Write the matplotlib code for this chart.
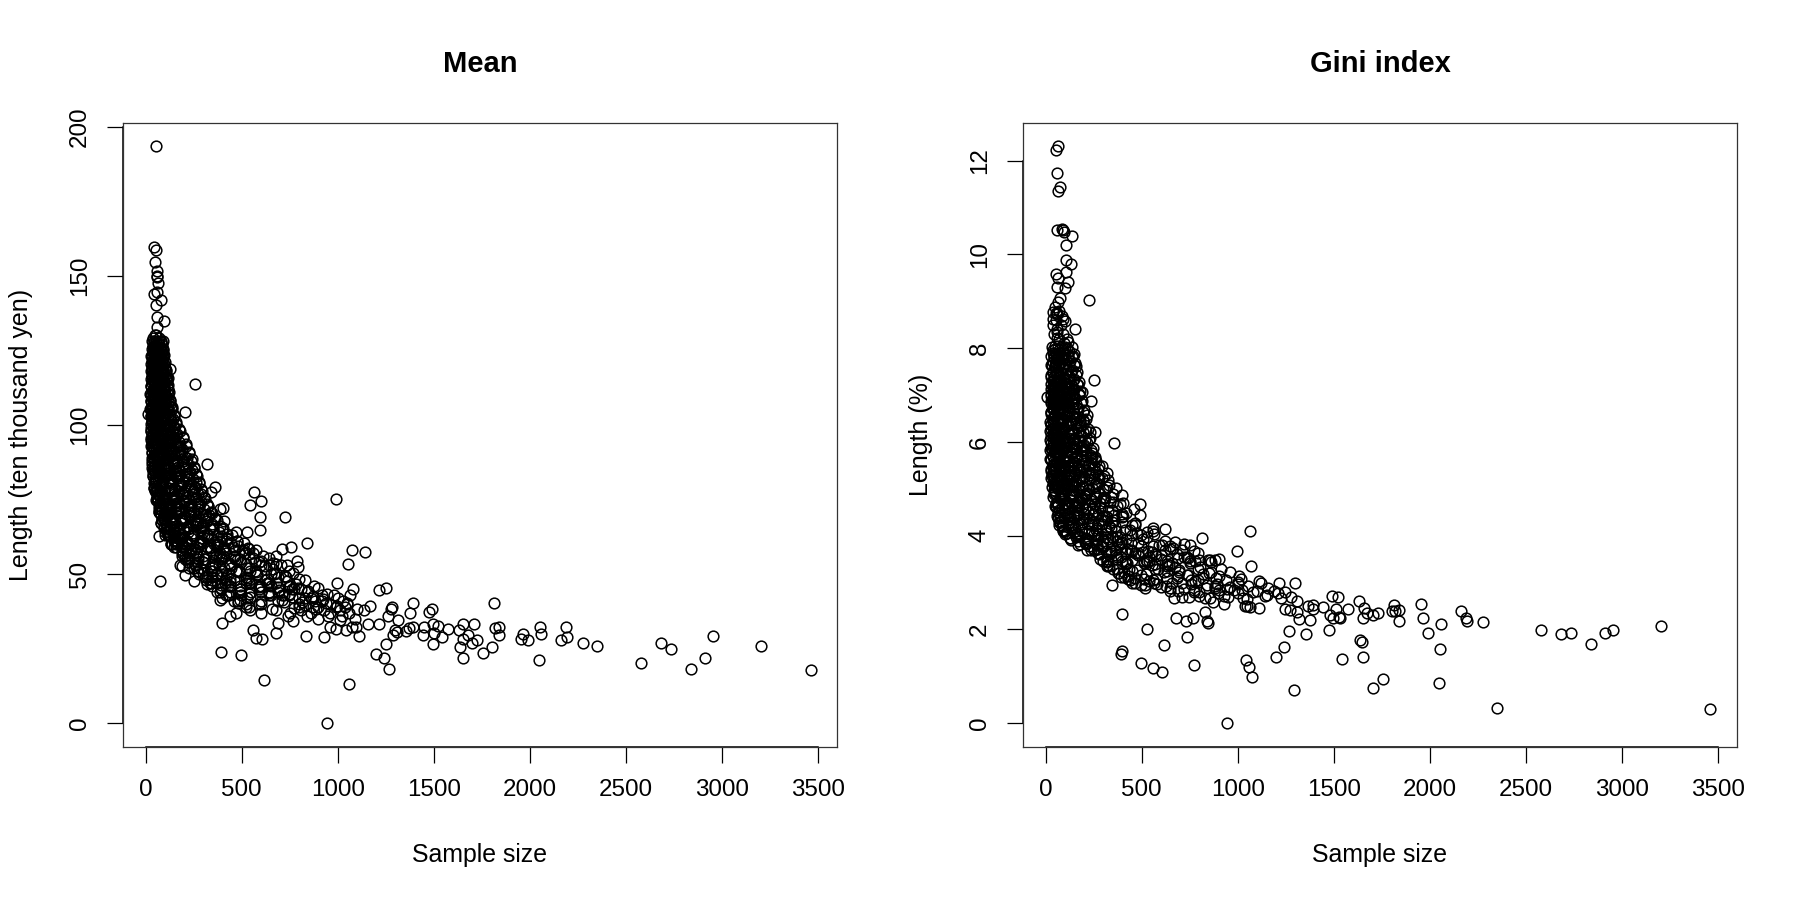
import matplotlib
matplotlib.use("Agg")
import matplotlib.pyplot as plt

plt.rcParams['font.family'] = ['Liberation Sans', 'DejaVu Sans']

x_ticks = [0, 500, 1000, 1500, 2000, 2500, 3000, 3500]
mean_ticks = [0, 50, 100, 150, 200]
gini_ticks = [0, 2, 4, 6, 8, 10, 12]

# isolated points of the mean panel
mean_sparse_x = [
    54, 42, 54, 49, 59, 59, 59, 62, 57, 45, 82, 54, 97, 61, 59, 127, 118, 259, 205, 10,
    321, 361, 340, 564, 602, 545, 594, 724, 990, 401, 387, 408, 528, 594, 469, 842, 755, 708, 531, 1076,
    1144, 1055, 738, 786, 795, 680, 665, 75, 71, 109, 205, 250, 187, 321, 387, 399, 394, 496, 559, 573,
    608, 616, 680, 691, 767, 752, 837, 929, 946, 1061, 1200, 1243, 1269, 1252, 1113, 996, 1078, 1062, 1213, 1250,
    1170, 1139, 1392, 1281, 1276, 1377, 1489, 1477, 1262, 1312, 1215, 1160, 1394, 1373, 1446, 1451, 1498, 1524, 1575, 1503,
    1495, 1298, 1290, 1356, 1307, 1094, 1043, 991, 960, 1073, 1012, 1542, 1634, 1653, 1708, 1680, 1651, 1727,
    1700, 1637, 1654, 1758, 1802, 1814, 1819, 1842, 1842, 1967, 1955, 1989, 2047, 2056, 2059, 2165, 2189, 2196, 2276, 2349,
    2581, 2682, 2738, 2842, 2915, 2953, 3205, 3463,
]
mean_sparse_y = [
    193.4, 159.7, 158.7, 154.7, 151.6, 150, 149.7, 147.5, 144.5, 143.9, 141.8, 140.3, 134.9, 136.1, 132.7, 118.9, 115.6, 113.6, 104.4, 103.7,
    86.9, 79.3, 77.4, 77.7, 74.7, 73.3, 69.3, 69.3, 75.1, 72.3, 71.8, 67.9, 64, 64.7, 64, 60.5, 59, 58.6, 58.8, 58.2,
    57.5, 53.5, 53, 54.5, 52.5, 56, 53.8, 47.8, 62.7, 64, 49.7, 47.8, 52.7, 46.6, 41.2, 33.8, 24.1, 22.8, 31.3, 28.5,
    28.3, 14.7, 30.2, 33.8, 34.2, 36.9, 29.2, 28.8, 0, 13.1, 23.3, 21.8, 18.4, 26.7, 29.4, 47.1, 44.9, 43, 44.8, 45.5,
    39.4, 38, 40.5, 39.1, 38.5, 36.9, 38.5, 37.2, 36, 34.6, 33.2, 33.3, 32.4, 32.1, 29.5, 32.4, 33.3, 32.6, 31.5, 30.2,
    26.7, 31.3, 29.6, 31.1, 30.7, 32.4, 31.3, 31.5, 32.4, 32.4, 34.6, 28.8, 31.3, 33.2, 33.2, 29.6, 28.4, 27.9,
    27, 25.7, 21.8, 23.5, 25.7, 40.2, 32.1, 32.4, 29.7, 29.8, 28.4, 28.1, 21.4, 32.4, 29.8, 28.1, 32.4, 29, 26.8, 25.8,
    20.4, 27.1, 25.1, 18.4, 22, 29.4, 26, 17.8,
]

# crowded part of the mean panel, written top to bottom along the curve
mean_cluster_x = [
    36, 44, 52, 60, 68, 75, 82, 90, 48, 64,
    34, 42, 50, 58, 66, 74, 82, 92, 100, 46,
    32, 40, 48, 56, 64, 72, 80, 88, 96, 106,
    30, 38, 46, 54, 62, 70, 78, 90, 102, 118,
    28, 36, 44, 52, 60, 68, 80, 95, 110, 125,
    26, 34, 42, 50, 60, 72, 85, 100, 120, 140,
    28, 38, 48, 58, 70, 85, 100, 120, 140, 165,
    30, 40, 50, 62, 76, 92, 110, 130, 155, 180,
    32, 44, 56, 70, 86, 104, 125, 150, 180, 215,
    34, 46, 60, 76, 94, 115, 140, 170, 205, 240,
    38, 50, 66, 84, 104, 128, 155, 185, 220, 262,
    46, 58, 76, 96, 120, 145, 175, 210, 250, 290,
    60, 75, 92, 112, 135, 165, 195, 235, 280, 325,
    70, 88, 108, 130, 155, 185, 220, 265, 310, 360,
    82, 104, 128, 155, 185, 220, 260, 300, 345, 400,
    115, 145, 175, 210, 245, 285, 325, 375, 425, 475,
    160, 195, 235, 275, 320, 365, 410, 460, 510, 560,
    215, 255, 300, 345, 390, 440, 490, 540, 590, 640,
    270, 320, 370, 420, 470, 520, 570, 620, 670, 730,
    340, 390, 440, 490, 540, 590, 640, 690, 750, 810,
    420, 480, 530, 590, 640, 690, 745, 800, 860, 920,
    520, 600, 680, 740, 800, 860, 900, 950, 1010, 1060,
    40, 47, 55, 63, 71, 79, 86, 38, 58, 74,
    33, 41, 49, 57, 65, 75, 85, 95, 109, 52,
    29, 37, 45, 53, 63, 73, 85, 99, 114, 130,
    27, 35, 43, 53, 63, 75, 90, 106, 126, 148,
    29, 39, 49, 60, 73, 88, 105, 126, 148, 172,
    31, 42, 54, 67, 82, 98, 118, 140, 166, 196,
    33, 46, 60, 75, 92, 112, 135, 160, 192, 228,
    38, 52, 68, 86, 106, 130, 158, 190, 226, 256,
    44, 58, 76, 96, 118, 145, 175, 208, 245, 275,
    56, 72, 90, 112, 138, 168, 200, 238, 280, 315,
    68, 85, 106, 130, 158, 190, 228, 270, 312, 350,
    78, 100, 125, 152, 185, 222, 262, 305, 350, 395,
    100, 130, 165, 200, 240, 282, 325, 370, 420, 465,
    150, 190, 230, 275, 320, 365, 415, 465, 515, 570,
    205, 250, 300, 345, 395, 445, 495, 545, 600, 655,
    265, 315, 365, 415, 470, 525, 580, 630, 690, 745,
    335, 385, 440, 495, 550, 600, 655, 710, 770, 830,
    36, 44, 52, 60, 70, 82, 42, 56, 68, 88,
    32, 40, 50, 62, 76, 92, 110, 48, 66, 84,
    34, 44, 56, 70, 86, 104, 126, 150, 60, 96,
    38, 50, 64, 80, 100, 122, 148, 178, 210, 72,
    50, 66, 84, 106, 130, 158, 188, 222, 260, 96,
    74, 94, 116, 142, 172, 206, 244, 285, 330, 126,
    110, 140, 172, 208, 248, 290, 335, 385, 160, 235,
    190, 225, 265, 310, 355, 405, 455, 285, 380, 430,
    80, 95, 120, 130, 150, 165, 190, 180, 205, 225,
    345, 370, 400, 430, 460, 490, 520, 545, 470, 440,
    810, 840, 870, 900, 930, 960, 990, 1020, 1050, 1090,
]
mean_cluster_y = [
    129, 128, 130, 127, 129, 126, 128, 125, 126, 124,
    123, 124, 122, 125, 121, 123, 120, 122, 119, 120,
    118, 116, 119, 117, 115, 119, 116, 118, 115, 117,
    113, 111, 114, 112, 110, 114, 111, 113, 110, 112,
    108, 106, 109, 107, 105, 109, 106, 108, 105, 107,
    103, 101, 104, 102, 100, 104, 101, 103, 100, 102,
    99, 97, 98, 96, 99, 97, 99, 96, 98, 97,
    95, 93, 94, 92, 95, 93, 95, 92, 94, 93,
    91, 89, 90, 88, 91, 89, 91, 88, 90, 89,
    87, 85, 86, 84, 87, 85, 87, 84, 86, 85,
    83, 81, 82, 80, 83, 81, 83, 80, 82, 81,
    79, 77, 78, 76, 79, 77, 79, 76, 78, 77,
    75, 73, 74, 72, 75, 73, 75, 72, 74, 73,
    71, 69, 70, 68, 71, 69, 71, 68, 70, 69,
    67, 65, 66, 64, 67, 65, 67, 64, 66, 65,
    63, 61, 62, 60, 63, 61, 63, 60, 62, 61,
    59, 57, 58, 56, 59, 57, 59, 56, 58, 57,
    55, 53, 54, 52, 55, 53, 55, 52, 54, 53,
    51, 49, 50, 48, 51, 49, 51, 48, 50, 49,
    47, 45, 46, 44, 47, 45, 47, 44, 46, 45,
    43, 41, 42, 40, 43, 41, 43, 40, 42, 41,
    39, 37, 38, 36, 39, 37, 39, 36, 38, 37,
    126, 130, 124, 128, 122, 125, 121, 120, 119, 118,
    116, 114, 117, 113, 116, 112, 117, 113, 115, 111,
    110, 108, 111, 107, 110, 108, 111, 107, 109, 106,
    105, 102, 104, 100, 105, 102, 104, 100, 103, 99,
    98, 95, 97, 94, 98, 95, 97, 94, 96, 93,
    93, 90, 92, 89, 93, 90, 92, 89, 91, 88,
    89, 86, 88, 85, 89, 86, 88, 85, 87, 84,
    84, 81, 83, 80, 84, 81, 83, 80, 82, 79,
    79, 76, 78, 75, 79, 76, 78, 75, 77, 74,
    75, 72, 74, 71, 75, 72, 74, 71, 73, 70,
    71, 68, 70, 67, 71, 68, 70, 67, 69, 66,
    67, 64, 66, 63, 67, 64, 66, 63, 65, 62,
    63, 60, 62, 59, 63, 60, 62, 59, 61, 58,
    59, 56, 58, 55, 59, 56, 58, 55, 57, 54,
    55, 52, 54, 51, 55, 52, 54, 51, 53, 50,
    51, 48, 50, 47, 51, 48, 50, 47, 49, 46,
    47, 44, 46, 43, 47, 44, 46, 43, 45, 42,
    121, 118, 120, 117, 115, 119, 112, 110, 113, 108,
    106, 103, 105, 101, 106, 102, 104, 99, 98, 97,
    96, 92, 94, 90, 95, 91, 94, 90, 87, 86,
    85, 82, 84, 80, 85, 81, 84, 80, 83, 77,
    78, 75, 77, 73, 78, 74, 77, 73, 76, 70,
    72, 69, 71, 67, 72, 68, 71, 67, 70, 65,
    66, 63, 65, 61, 66, 62, 65, 61, 60, 58,
    60, 57, 59, 55, 60, 56, 59, 52, 53, 50,
    70, 66, 63, 60, 64, 61, 57, 53, 56, 52,
    46, 44, 42, 43, 41, 44, 40, 38, 37, 36,
    38, 36, 39, 35, 38, 37, 39, 36, 40, 35,
]

# second pass over the same curve, where the rings merge into black
mean_core_x = [
    32, 38, 44, 50, 56, 62, 68, 74, 80, 86, 92, 46,
    31, 37, 43, 49, 55, 61, 67, 73, 79, 85, 91, 97,
    29, 35, 41, 47, 53, 59, 65, 71, 77, 83, 90, 99,
    28, 34, 40, 47, 54, 61, 68, 75, 82, 89, 97, 108,
    26, 33, 40, 47, 54, 61, 68, 76, 84, 92, 104, 112,
    27, 34, 41, 48, 55, 62, 70, 78, 86, 96, 106, 116,
    26, 33, 41, 49, 57, 65, 73, 82, 91, 101, 111, 122,
    25, 33, 41, 49, 58, 67, 76, 86, 96, 107, 118, 128,
    26, 34, 43, 52, 61, 71, 81, 92, 103, 115, 127, 136,
    25, 34, 43, 53, 63, 74, 85, 97, 110, 123, 136, 148,
    26, 35, 45, 55, 66, 78, 91, 104, 118, 133, 148, 160,
    26, 36, 46, 58, 70, 83, 97, 112, 128, 145, 160, 172,
    27, 38, 50, 62, 76, 91, 107, 124, 142, 160, 178, 195,
    28, 40, 52, 66, 81, 97, 115, 134, 154, 175, 195, 210,
    30, 42, 56, 71, 87, 105, 124, 145, 167, 190, 210, 225,
    31, 44, 59, 75, 93, 112, 133, 156, 180, 205, 225, 240,
    33, 47, 63, 80, 99, 120, 143, 168, 194, 220, 238, 250,
    35, 50, 67, 86, 107, 130, 155, 181, 208, 232, 250, 262,
    40, 54, 72, 92, 114, 138, 165, 192, 220, 245, 265, 278,
    45, 60, 79, 100, 123, 148, 176, 205, 235, 258, 278, 290,
    52, 68, 87, 108, 132, 160, 188, 218, 248, 272, 292, 305,
    60, 76, 96, 118, 143, 172, 202, 234, 262, 288, 308, 322,
    68, 86, 106, 130, 156, 186, 218, 250, 280, 305, 325, 340,
    76, 96, 118, 143, 172, 204, 236, 268, 298, 325, 345, 360,
    84, 106, 130, 158, 190, 222, 256, 290, 320, 348, 370, 388,
    98, 122, 150, 180, 214, 248, 284, 318, 350, 380, 405, 425,
    125, 152, 184, 216, 250, 286, 322, 358, 392, 425, 450, 475,
    160, 190, 224, 258, 296, 334, 372, 410, 445, 480, 510, 540,
    190, 225, 262, 300, 340, 380, 420, 460, 500, 540, 575, 610,
    225, 265, 305, 348, 390, 432, 476, 520, 560, 600, 640, 680,
    260, 305, 350, 395, 440, 485, 530, 575, 620, 665, 705, 745,
    300, 345, 392, 440, 488, 535, 582, 630, 678, 725, 765, 800,
    345, 392, 440, 490, 538, 588, 638, 688, 738, 785, 830, 875,
    390, 440, 490, 540, 592, 642, 695, 745, 795, 845, 895, 945,
    435, 490, 545, 600, 655, 708, 762, 815, 870, 925, 980, 1030,
    480, 540, 600, 660, 720, 775, 830, 885, 940, 995, 1050, 1100,
    40, 65, 90, 115, 140, 165, 190, 50, 80, 110, 145, 175,
    45, 70, 95, 120, 145, 170, 195, 220, 60, 90, 125, 160,
    75, 100, 125, 150, 175, 200, 225, 250, 275, 300, 115, 190,
    135, 160, 185, 210, 235, 260, 285, 310, 335, 360, 385, 410,
    220, 250, 280, 310, 340, 370, 400, 430, 460, 490, 520, 550,
    600, 640, 680, 720, 760, 800, 840, 880, 920, 960, 1000, 1040,
]
mean_core_y = [
    128, 126.5, 127.5, 126, 128.2, 126.2, 127.2, 125.8, 127.8, 126.8, 128, 126,
    125.5, 124, 125, 123.5, 125.7, 123.7, 124.7, 123.3, 125.3, 124.3, 125.5, 123.5,
    123, 121.5, 122.5, 121, 123.2, 121.2, 122.2, 120.8, 122.8, 121.8, 123, 121,
    120.5, 119, 120, 118.5, 120.7, 118.7, 119.7, 118.3, 120.3, 119.3, 120.5, 118.5,
    118, 116.5, 117.5, 116, 118.2, 116.2, 117.2, 115.8, 117.8, 116.8, 118, 116,
    115.5, 114, 115, 113.5, 115.7, 113.7, 114.7, 113.3, 115.3, 114.3, 115.5, 113.5,
    113, 111.5, 112.5, 111, 113.2, 111.2, 112.2, 110.8, 112.8, 111.8, 113, 111,
    110.5, 109, 110, 108.5, 110.7, 108.7, 109.7, 108.3, 110.3, 109.3, 110.5, 108.5,
    108, 106.5, 107.5, 106, 108.2, 106.2, 107.2, 105.8, 107.8, 106.8, 108, 106,
    105.5, 104, 105, 103.5, 105.7, 103.7, 104.7, 103.3, 105.3, 104.3, 105.5, 103.5,
    103, 101.5, 102.5, 101, 103.2, 101.2, 102.2, 100.8, 102.8, 101.8, 103, 101,
    100.5, 99, 100, 98.5, 100.7, 98.7, 99.7, 98.3, 100.3, 99.3, 100.5, 98.5,
    98, 96.5, 97.5, 96, 98.2, 96.2, 97.2, 95.8, 97.8, 96.8, 98, 96,
    95.5, 94, 95, 93.5, 95.7, 93.7, 94.7, 93.3, 95.3, 94.3, 95.5, 93.5,
    93, 91.5, 92.5, 91, 93.2, 91.2, 92.2, 90.8, 92.8, 91.8, 93, 91,
    90.5, 89, 90, 88.5, 90.7, 88.7, 89.7, 88.3, 90.3, 89.3, 90.5, 88.5,
    88, 86.5, 87.5, 86, 88.2, 86.2, 87.2, 85.8, 87.8, 86.8, 88, 86,
    85.5, 84, 85, 83.5, 85.7, 83.7, 84.7, 83.3, 85.3, 84.3, 85.5, 83.5,
    83, 81.5, 82.5, 81, 83.2, 81.2, 82.2, 80.8, 82.8, 81.8, 83, 81,
    80.5, 79, 80, 78.5, 80.7, 78.7, 79.7, 78.3, 80.3, 79.3, 80.5, 78.5,
    78, 76.5, 77.5, 76, 78.2, 76.2, 77.2, 75.8, 77.8, 76.8, 78, 76,
    75.5, 74, 75, 73.5, 75.7, 73.7, 74.7, 73.3, 75.3, 74.3, 75.5, 73.5,
    73, 71.5, 72.5, 71, 73.2, 71.2, 72.2, 70.8, 72.8, 71.8, 73, 71,
    70.5, 69, 70, 68.5, 70.7, 68.7, 69.7, 68.3, 70.3, 69.3, 70.5, 68.5,
    68, 66.5, 67.5, 66, 68.2, 66.2, 67.2, 65.8, 67.8, 66.8, 68, 66,
    65.5, 64, 65, 63.5, 65.7, 63.7, 64.7, 63.3, 65.3, 64.3, 65.5, 63.5,
    63, 61.5, 62.5, 61, 63.2, 61.2, 62.2, 60.8, 62.8, 61.8, 63, 61,
    60.5, 59, 60, 58.5, 60.7, 58.7, 59.7, 58.3, 60.3, 59.3, 60.5, 58.5,
    58, 56.5, 57.5, 56, 58.2, 56.2, 57.2, 55.8, 57.8, 56.8, 58, 56,
    55.5, 54, 55, 53.5, 55.7, 53.7, 54.7, 53.3, 55.3, 54.3, 55.5, 53.5,
    53, 51.5, 52.5, 51, 53.2, 51.2, 52.2, 50.8, 52.8, 51.8, 53, 51,
    50.5, 49, 50, 48.5, 50.7, 48.7, 49.7, 48.3, 50.3, 49.3, 50.5, 48.5,
    48, 46.5, 47.5, 46, 48.2, 46.2, 47.2, 45.8, 47.8, 46.8, 48, 46,
    45.5, 44, 45, 43.5, 45.7, 43.7, 44.7, 43.3, 45.3, 44.3, 45.5, 43.5,
    43, 41.5, 42.5, 41, 43.2, 41.2, 42.2, 40.8, 42.8, 41.8, 43, 41,
    40.5, 39, 40, 38.5, 40.7, 38.7, 39.7, 38.3, 40.3, 39.3, 40.5, 38.5,
    104, 101, 99, 97, 95, 93, 91, 95, 92, 89, 87, 85,
    88, 85, 83, 81, 79, 83, 77, 80, 78, 75, 73, 71,
    74, 71, 69, 67, 72, 65, 70, 68, 72, 66, 63, 62,
    60, 61, 63, 58, 62, 57, 60, 55, 59, 53, 57, 52,
    54, 52, 50, 49, 51, 47, 49, 46, 48, 45, 47, 44,
    46, 44, 47, 43, 45, 42, 44, 41, 43, 40, 42, 39,
]

# isolated points of the Gini panel
gini_sparse_x = [
    62, 52, 59, 75, 62, 61, 83, 92, 97, 135, 104, 104, 130, 106, 54, 118, 61, 101, 66, 224,
    75, 49, 66, 40, 61, 101, 153, 57, 57, 118, 101, 135, 158, 49, 252, 45, 148, 170, 187, 172,
    9, 234, 167, 213, 196, 257, 231, 243, 295, 318, 326, 365, 396, 404, 358, 493, 462, 493, 557, 623,
    557, 812, 1066, 996, 1068, 752, 672, 648, 708, 734, 856, 882, 904, 797, 344, 431, 465, 517, 564, 668,
    797, 873, 929, 1009, 1120, 1213, 1297, 1246, 1210, 1278, 1307, 1038, 1064, 1113, 1050, 1246, 1272, 1311, 1318, 1377,
    1368, 1394, 1390, 1446, 1493, 1524, 1510, 1481, 1498, 1529, 1573, 1476, 1354, 1267, 1243, 1200, 1042,
    1059, 1076, 1293, 946, 399, 526, 399, 394, 496, 559, 608, 616, 679, 731, 767, 738,
    773, 828, 839, 844, 1533, 1632, 1658, 1675, 1703, 1729, 1653, 1637, 1648, 1542, 1653, 1758, 1707, 1814, 1802, 1819,
    1842, 1842, 1955, 1967, 1989, 2059, 2056, 2047, 2165, 2189, 2196, 2276, 2349, 2581, 2682, 2738, 2842, 2915, 2953, 3205,
    3461,
]
gini_sparse_y = [
    12.31, 12.22, 11.74, 11.43, 11.36, 10.52, 10.55, 10.52, 10.47, 10.38, 10.2, 9.88, 9.79, 9.63, 9.58, 9.4, 9.31, 9.28, 9.49, 9.03,
    9.06, 8.88, 8.99, 8.63, 8.74, 8.58, 8.41, 8.35, 8.21, 8.14, 8.03, 7.82, 7.62, 7.65, 7.31, 7.39, 7.35, 7.21, 7.07, 7.0,
    6.95, 6.88, 6.72, 6.58, 6.47, 6.22, 6.22, 5.76, 5.49, 5.34, 5.19, 5.01, 4.87, 4.69, 5.97, 4.68, 4.57, 4.45, 4.17, 4.14,
    4.09, 3.94, 4.09, 3.68, 3.35, 3.8, 3.87, 3.79, 3.7, 3.55, 3.48, 3.48, 3.5, 3.48, 2.94, 3.08, 3.0, 2.95, 2.99, 2.67,
    2.71, 2.59, 2.54, 3.14, 2.99, 3.0, 2.99, 2.79, 2.77, 2.7, 2.61, 2.49, 2.47, 2.45, 2.5, 2.43, 2.42, 2.38, 2.22, 2.2,
    2.51, 2.52, 2.44, 2.47, 2.72, 2.7, 2.44, 2.31, 2.24, 2.26, 2.43, 1.98, 1.9, 1.96, 1.62, 1.41, 1.35,
    1.21, 0.98, 0.7, 0, 2.33, 2.0, 1.54, 1.47, 1.28, 1.17, 1.1, 1.66, 2.25, 2.17, 2.25, 1.83,
    1.25, 2.37, 2.17, 2.13, 2.25, 2.6, 2.45, 2.35, 2.3, 2.36, 2.24, 1.77, 1.73, 1.36, 1.41, 0.95, 0.76, 2.52, 2.39, 2.4,
    2.41, 2.17, 2.54, 2.24, 1.92, 2.11, 1.58, 0.85, 2.4, 2.25, 2.19, 2.15, 0.33, 1.98, 1.9, 1.93, 1.68, 1.93, 1.98, 2.07,
    0.31,
]

# crowded part of the Gini panel
gini_cluster_x = [
    38, 44, 52, 60, 68, 78, 88, 96, 110, 48,
    36, 44, 52, 60, 70, 80, 92, 104, 118, 56,
    32, 40, 48, 56, 66, 76, 88, 100, 114, 130,
    30, 38, 46, 56, 66, 78, 90, 104, 120, 138,
    28, 36, 46, 56, 68, 80, 94, 110, 128, 150,
    28, 36, 46, 58, 70, 84, 100, 118, 140, 165,
    26, 36, 46, 58, 72, 88, 106, 126, 150, 180,
    26, 36, 48, 60, 76, 92, 112, 135, 162, 195,
    26, 38, 50, 64, 80, 98, 120, 145, 175, 215,
    26, 38, 52, 68, 85, 105, 130, 158, 190, 230,
    28, 40, 54, 72, 92, 115, 142, 172, 205, 250,
    30, 44, 60, 78, 100, 125, 155, 190, 230, 280,
    36, 50, 68, 88, 112, 140, 175, 215, 260, 310,
    44, 60, 80, 104, 130, 165, 205, 250, 300, 350,
    56, 75, 98, 125, 160, 200, 245, 295, 345, 395,
    66, 90, 120, 155, 195, 240, 290, 340, 395, 450,
    90, 125, 165, 210, 260, 310, 365, 420, 475, 530,
    170, 215, 265, 315, 370, 425, 480, 535, 590, 650,
    270, 320, 370, 425, 480, 540, 600, 660, 720, 780,
    320, 375, 435, 495, 555, 615, 675, 735, 795, 860,
    430, 495, 560, 625, 690, 755, 820, 880, 940, 1000,
    650, 710, 770, 830, 880, 930, 980, 1030, 1080, 1140,
    40, 48, 56, 64, 74, 84, 94, 108, 124, 140,
    30, 38, 48, 60, 72, 86, 102, 120, 142, 160,
    28, 38, 50, 62, 76, 92, 110, 130, 156, 185,
    28, 40, 52, 66, 82, 100, 122, 148, 178, 205,
    28, 42, 56, 72, 90, 112, 138, 165, 200, 240,
    30, 44, 60, 78, 100, 124, 152, 185, 220, 262,
    34, 50, 68, 90, 114, 144, 178, 220, 262, 300,
    42, 60, 82, 106, 136, 172, 212, 256, 305, 335,
    56, 76, 100, 130, 165, 208, 255, 305, 355, 400,
    75, 105, 140, 180, 225, 275, 330, 385, 440, 495,
    125, 170, 220, 270, 325, 385, 445, 505, 560, 620,
    235, 285, 340, 395, 450, 510, 570, 630, 690, 750,
    330, 390, 450, 510, 570, 630, 695, 755, 820, 885,
    450, 515, 580, 645, 710, 775, 840, 900, 960, 1020,
    36, 44, 54, 66, 80, 96, 114, 136, 160, 60,
    30, 42, 56, 72, 90, 110, 134, 160, 190, 50,
    32, 46, 62, 82, 104, 130, 160, 195, 235, 70,
    38, 54, 74, 96, 122, 152, 188, 228, 272, 88,
    48, 66, 90, 118, 150, 190, 235, 285, 120, 170,
    70, 95, 130, 170, 215, 265, 315, 370, 210, 290,
    180, 225, 250, 280, 300, 320, 350, 380, 410, 440,
]
gini_cluster_y = [
    8.5, 8.3, 8.6, 8.4, 8.2, 8.5, 8.3, 8.1, 8.2, 8.05,
    7.95, 7.8, 7.9, 7.75, 7.95, 7.8, 7.9, 7.75, 7.85, 7.7,
    7.65, 7.5, 7.6, 7.45, 7.65, 7.5, 7.6, 7.45, 7.55, 7.5,
    7.38, 7.2, 7.32, 7.18, 7.38, 7.22, 7.34, 7.18, 7.3, 7.2,
    7.12, 6.95, 7.05, 6.92, 7.12, 6.96, 7.08, 6.92, 7.04, 6.96,
    6.88, 6.7, 6.8, 6.67, 6.88, 6.72, 6.84, 6.67, 6.8, 6.72,
    6.63, 6.45, 6.55, 6.42, 6.63, 6.47, 6.59, 6.42, 6.55, 6.47,
    6.38, 6.2, 6.3, 6.17, 6.38, 6.22, 6.34, 6.17, 6.3, 6.22,
    6.13, 5.95, 6.05, 5.92, 6.13, 5.97, 6.09, 5.92, 6.05, 5.97,
    5.88, 5.7, 5.8, 5.67, 5.88, 5.72, 5.84, 5.67, 5.8, 5.72,
    5.63, 5.45, 5.55, 5.42, 5.63, 5.47, 5.59, 5.42, 5.55, 5.47,
    5.38, 5.2, 5.3, 5.17, 5.38, 5.22, 5.34, 5.17, 5.3, 5.22,
    5.13, 4.95, 5.05, 4.92, 5.13, 4.97, 5.09, 4.92, 5.05, 4.97,
    4.88, 4.7, 4.8, 4.67, 4.88, 4.72, 4.84, 4.67, 4.8, 4.72,
    4.63, 4.45, 4.55, 4.42, 4.63, 4.47, 4.59, 4.42, 4.55, 4.47,
    4.38, 4.2, 4.3, 4.17, 4.38, 4.22, 4.34, 4.17, 4.3, 4.22,
    4.13, 3.95, 4.05, 3.92, 4.13, 3.97, 4.09, 3.92, 4.05, 3.97,
    3.88, 3.7, 3.8, 3.67, 3.88, 3.72, 3.84, 3.67, 3.8, 3.72,
    3.63, 3.45, 3.55, 3.42, 3.63, 3.47, 3.59, 3.42, 3.55, 3.47,
    3.38, 3.2, 3.3, 3.17, 3.38, 3.22, 3.34, 3.17, 3.3, 3.22,
    3.13, 2.95, 3.05, 2.92, 3.13, 2.97, 3.09, 2.92, 3.05, 2.97,
    2.88, 2.7, 2.8, 2.67, 2.88, 2.72, 2.84, 2.67, 2.8, 2.72,
    7.3, 7.15, 7.25, 7.05, 7.28, 7.1, 7.2, 7.02, 7.15, 7.05,
    6.98, 6.85, 6.92, 6.78, 6.98, 6.82, 6.92, 6.75, 6.88, 6.8,
    6.6, 6.5, 6.58, 6.4, 6.6, 6.45, 6.55, 6.38, 6.5, 6.35,
    6.28, 6.1, 6.22, 6.05, 6.28, 6.08, 6.2, 6.03, 6.15, 6.05,
    5.98, 5.78, 5.92, 5.75, 5.98, 5.78, 5.9, 5.72, 5.85, 5.68,
    5.62, 5.4, 5.55, 5.38, 5.62, 5.4, 5.55, 5.35, 5.48, 5.35,
    5.28, 5.05, 5.2, 5.0, 5.28, 5.05, 5.2, 4.98, 5.12, 5.0,
    4.98, 4.72, 4.9, 4.7, 4.98, 4.72, 4.88, 4.68, 4.82, 4.72,
    4.62, 4.38, 4.55, 4.35, 4.62, 4.38, 4.52, 4.33, 4.45, 4.4,
    4.3, 4.05, 4.22, 4.0, 4.28, 4.03, 4.2, 3.98, 4.12, 4.02,
    3.95, 3.8, 3.9, 3.72, 3.92, 3.72, 3.85, 3.65, 3.78, 3.7,
    3.7, 3.5, 3.62, 3.45, 3.68, 3.45, 3.6, 3.4, 3.52, 3.45,
    3.35, 3.12, 3.25, 3.08, 3.3, 3.1, 3.22, 3.05, 3.18, 3.1,
    3.0, 2.88, 2.98, 2.82, 3.0, 2.85, 2.95, 2.78, 2.9, 2.85,
    6.9, 6.7, 6.82, 6.6, 6.85, 6.62, 6.75, 6.55, 6.4, 6.48,
    6.35, 6.15, 6.28, 6.0, 6.3, 6.02, 6.22, 5.98, 5.9, 5.85,
    5.82, 5.6, 5.72, 5.5, 5.8, 5.52, 5.7, 5.48, 5.55, 5.3,
    5.35, 5.12, 5.25, 5.02, 5.32, 5.05, 5.22, 5.0, 5.1, 4.85,
    4.92, 4.65, 4.8, 4.6, 4.88, 4.62, 4.78, 4.58, 4.35, 4.45,
    4.3, 4.1, 4.22, 4.0, 4.25, 4.0, 4.15, 3.98, 3.85, 3.78,
    3.82, 3.78, 3.72, 3.6, 3.45, 3.35, 3.28, 3.2, 3.12, 3.05,
]

# second pass over the Gini curve, starting below the loose rings at the top
gini_core_x = [
    38, 54, 70, 90, 60, 86,
    32, 40, 48, 56, 66, 76, 88, 100, 112, 124, 136, 148,
    30, 38, 46, 56, 66, 76, 88, 100, 114, 128, 142, 155,
    30, 38, 48, 58, 68, 80, 92, 106, 120, 135, 150, 162,
    28, 36, 46, 56, 68, 80, 94, 108, 124, 140, 156, 172,
    28, 36, 46, 58, 70, 84, 98, 114, 130, 148, 165, 180,
    26, 36, 46, 58, 72, 86, 102, 118, 136, 155, 172, 188,
    26, 36, 48, 60, 74, 90, 106, 124, 142, 162, 182, 198,
    26, 36, 48, 62, 76, 92, 110, 130, 150, 172, 192, 208,
    25, 36, 48, 62, 78, 96, 116, 136, 158, 180, 202, 220,
    25, 36, 50, 64, 82, 100, 120, 142, 166, 190, 212, 232,
    25, 38, 52, 68, 86, 106, 128, 152, 176, 200, 224, 245,
    25, 38, 52, 70, 88, 110, 134, 160, 186, 212, 238, 258,
    25, 38, 54, 72, 92, 116, 142, 170, 198, 226, 255, 280,
    26, 40, 56, 76, 98, 122, 150, 180, 210, 242, 272, 305,
    28, 42, 60, 80, 104, 130, 160, 192, 226, 260, 295, 330,
    32, 48, 66, 88, 112, 140, 172, 206, 242, 280, 318, 350,
    40, 56, 76, 98, 124, 154, 188, 224, 262, 302, 340, 385,
    50, 66, 86, 110, 138, 170, 206, 244, 284, 326, 370, 420,
    58, 76, 98, 124, 156, 190, 228, 270, 312, 358, 405, 465,
    70, 92, 118, 150, 186, 226, 268, 314, 362, 412, 465, 530,
    100, 130, 165, 205, 250, 296, 346, 398, 452, 508, 565, 620,
    210, 250, 295, 342, 392, 444, 498, 552, 608, 664, 720, 770,
    275, 320, 365, 415, 465, 520, 575, 630, 685, 740, 795, 845,
    320, 370, 420, 475, 530, 585, 640, 695, 750, 805, 860, 915,
    410, 465, 520, 575, 630, 685, 740, 795, 850, 905, 960, 1015,
    540, 600, 660, 720, 780, 835, 890, 945, 1000, 1055, 1110, 1160,
    690, 745, 800, 855, 905, 950, 1000, 1050, 1100, 1150, 1190, 1225,
    60, 85, 110, 135, 160, 185, 210, 235, 260, 70, 120, 175,
    50, 75, 100, 125, 150, 175, 200, 225, 250, 275, 90, 140,
    60, 85, 110, 135, 160, 185, 210, 235, 260, 285, 310, 165,
    70, 95, 120, 145, 170, 195, 220, 245, 270, 295, 320, 345,
    85, 110, 135, 160, 185, 210, 240, 265, 290, 320, 350, 380,
    300, 330, 360, 390, 420, 450, 480, 510, 540, 570, 600, 630,
]
gini_core_y = [
    8.78, 8.74, 8.79, 8.61, 8.72, 8.68,
    8.03, 7.9, 7.99, 7.87, 8.04, 7.89, 7.97, 7.86, 8.01, 7.93, 8.03, 7.88,
    7.83, 7.7, 7.79, 7.67, 7.84, 7.69, 7.77, 7.66, 7.81, 7.73, 7.83, 7.68,
    7.63, 7.5, 7.59, 7.47, 7.64, 7.49, 7.57, 7.46, 7.61, 7.53, 7.63, 7.48,
    7.43, 7.3, 7.39, 7.27, 7.44, 7.29, 7.37, 7.26, 7.41, 7.33, 7.43, 7.28,
    7.23, 7.1, 7.19, 7.07, 7.24, 7.09, 7.17, 7.06, 7.21, 7.13, 7.23, 7.08,
    7.03, 6.9, 6.99, 6.87, 7.04, 6.89, 6.97, 6.86, 7.01, 6.93, 7.03, 6.88,
    6.83, 6.7, 6.79, 6.67, 6.84, 6.69, 6.77, 6.66, 6.81, 6.73, 6.83, 6.68,
    6.63, 6.5, 6.59, 6.47, 6.64, 6.49, 6.57, 6.46, 6.61, 6.53, 6.63, 6.48,
    6.43, 6.3, 6.39, 6.27, 6.44, 6.29, 6.37, 6.26, 6.41, 6.33, 6.43, 6.28,
    6.23, 6.1, 6.19, 6.07, 6.24, 6.09, 6.17, 6.06, 6.21, 6.13, 6.23, 6.08,
    6.03, 5.9, 5.99, 5.87, 6.04, 5.89, 5.97, 5.86, 6.01, 5.93, 6.03, 5.88,
    5.83, 5.7, 5.79, 5.67, 5.84, 5.69, 5.77, 5.66, 5.81, 5.73, 5.83, 5.68,
    5.63, 5.5, 5.59, 5.47, 5.64, 5.49, 5.57, 5.46, 5.61, 5.53, 5.63, 5.48,
    5.43, 5.3, 5.39, 5.27, 5.44, 5.29, 5.37, 5.26, 5.41, 5.33, 5.43, 5.28,
    5.23, 5.1, 5.19, 5.07, 5.24, 5.09, 5.17, 5.06, 5.21, 5.13, 5.23, 5.08,
    5.03, 4.9, 4.99, 4.87, 5.04, 4.89, 4.97, 4.86, 5.01, 4.93, 5.03, 4.88,
    4.83, 4.7, 4.79, 4.67, 4.84, 4.69, 4.77, 4.66, 4.81, 4.73, 4.83, 4.68,
    4.63, 4.5, 4.59, 4.47, 4.64, 4.49, 4.57, 4.46, 4.61, 4.53, 4.63, 4.48,
    4.43, 4.3, 4.39, 4.27, 4.44, 4.29, 4.37, 4.26, 4.41, 4.33, 4.43, 4.28,
    4.23, 4.1, 4.19, 4.07, 4.24, 4.09, 4.17, 4.06, 4.21, 4.13, 4.23, 4.08,
    4.03, 3.9, 3.99, 3.87, 4.04, 3.89, 3.97, 3.86, 4.01, 3.93, 4.03, 3.88,
    3.83, 3.7, 3.79, 3.67, 3.84, 3.69, 3.77, 3.66, 3.81, 3.73, 3.83, 3.68,
    3.63, 3.5, 3.59, 3.47, 3.64, 3.49, 3.57, 3.46, 3.61, 3.53, 3.63, 3.48,
    3.43, 3.3, 3.39, 3.27, 3.44, 3.29, 3.37, 3.26, 3.41, 3.33, 3.43, 3.28,
    3.23, 3.1, 3.19, 3.07, 3.24, 3.09, 3.17, 3.06, 3.21, 3.13, 3.23, 3.08,
    3.03, 2.9, 2.99, 2.87, 3.04, 2.89, 2.97, 2.86, 3.01, 2.93, 3.03, 2.88,
    2.83, 2.7, 2.79, 2.67, 2.84, 2.69, 2.77, 2.66, 2.81, 2.73, 2.83, 2.68,
    5.95, 5.8, 5.9, 5.75, 5.85, 5.7, 5.8, 5.65, 5.6, 5.65, 5.6, 5.5,
    5.5, 5.42, 5.35, 5.45, 5.3, 5.4, 5.25, 5.35, 5.2, 5.3, 5.15, 5.1,
    5.05, 4.95, 5.0, 4.85, 4.95, 4.8, 4.9, 4.75, 4.85, 4.7, 4.8, 4.65,
    4.55, 4.45, 4.6, 4.4, 4.55, 4.35, 4.5, 4.3, 4.45, 4.25, 4.4, 4.3,
    4.2, 4.05, 4.15, 3.98, 4.12, 3.95, 4.08, 3.9, 4.0, 3.85, 3.95, 3.82,
    3.75, 3.6, 3.7, 3.55, 3.62, 3.48, 3.58, 3.42, 3.55, 3.4, 3.5, 3.35,
]


def draw_panel(ax, x, y, y_ticks, y_lim, title, y_label, label_x):
    ax.plot(x, y, 'o', mfc='none', mec='black', ms=7.7, mew=1.1)
    ax.set_xlim(-118, 3600)
    ax.set_ylim(*y_lim)
    ax.set_xticks(x_ticks)
    ax.set_yticks(y_ticks)
    ax.tick_params(length=11.3, width=0.9, labelsize=17.4, pad=12)
    for label in ax.get_yticklabels():
        label.set_rotation(90)
        label.set_va('center')
    for spine in ax.spines.values():
        spine.set_linewidth(0.9)
        spine.set_color('#333333')
    # axis lines run between the outer ticks, on top of the box
    ax.plot([x_ticks[0], x_ticks[-1]], [y_lim[0], y_lim[0]], color='black', lw=1.1, clip_on=False)
    ax.plot([-118, -118], [y_ticks[0], y_ticks[-1]], color='black', lw=1.1, clip_on=False)
    ax.set_title(title, fontsize=21, fontweight='bold', y=1.0815, va='center')
    ax.set_xlabel('Sample size', fontsize=17.9, va='center')
    ax.xaxis.set_label_coords(0.5, -0.1737)
    ax.set_ylabel(y_label, fontsize=18, va='center')
    ax.yaxis.set_label_coords(label_x, 0.5)


fig = plt.figure(figsize=(18, 9), dpi=100)
ax1 = fig.add_axes([123 / 1800, 153.3 / 900, 714 / 1800, 623.7 / 900])
ax2 = fig.add_axes([1023 / 1800, 153.3 / 900, 714 / 1800, 623.7 / 900])

draw_panel(ax1, mean_sparse_x + mean_cluster_x + mean_core_x,
           mean_sparse_y + mean_cluster_y + mean_core_y,
           mean_ticks, (-7.8, 201.2), 'Mean', 'Length (ten thousand yen)', -0.143)
draw_panel(ax2, gini_sparse_x + gini_cluster_x + gini_core_x,
           gini_sparse_y + gini_cluster_y + gini_core_y,
           gini_ticks, (-0.5, 12.8), 'Gini index', 'Length (%)', -0.143)

fig.savefig('out.png', dpi=100)
